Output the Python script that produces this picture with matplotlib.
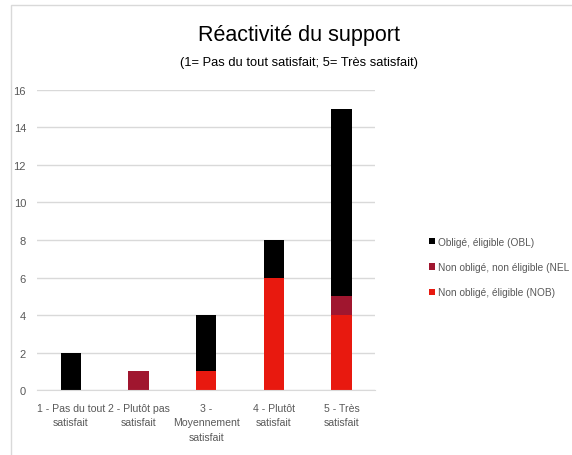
import matplotlib.pyplot as plt
from matplotlib.patches import Rectangle
import numpy as np

# données
categories = ['1 - Pas du tout\nsatisfait', '2 - Plutôt pas\nsatisfait', '3 -\nMoyennement\nsatisfait',
              '4 - Plutôt\nsatisfait', '5 - Très\nsatisfait']
nob = [0, 0, 1, 6, 4]
nel = [0, 1, 0, 0, 1]
obl = [2, 0, 3, 2, 10]
series_labels = ['Non obligé, éligible (NOB)', 'Non obligé, non éligible (NEL', 'Obligé, éligible (OBL)']
colors = ['#E8190F', '#A0162F', '#000000']

plt.rcParams['font.family'] = ['Liberation Sans', 'DejaVu Sans']
gris = '#595959'

fig = plt.figure(figsize=(5.72, 4.56), dpi=100)
ax = fig.add_axes([0.065, 0.1425, 0.591, 0.658])

x = np.arange(len(categories))
bas = np.zeros(len(categories))
for vals, lab, col in zip([nob, nel, obl], series_labels, colors):
    ax.bar(x, vals, width=0.3, bottom=bas, color=col, label=lab)
    bas = bas + np.array(vals)

ax.set_xlim(-0.5, 4.5)
ax.set_ylim(0, 16)
ax.set_yticks(range(0, 17, 2))
ax.set_xticks(x)
ax.set_xticklabels(categories, fontsize=7.6, color=gris, linespacing=1.6)
ax.tick_params(axis='y', labelsize=8, colors=gris, length=0, pad=8)
ax.tick_params(axis='x', length=0, pad=9)
ax.grid(axis='y', color='#d9d9d9', linewidth=1)
ax.set_axisbelow(True)
for s in ['top', 'right', 'left']:
    ax.spines[s].set_visible(False)
ax.spines['bottom'].set_color('#d9d9d9')

fig.text(0.523, 0.922, 'Réactivité du support', ha='center', va='center', fontsize=15.5, color='#000000')
fig.text(0.523, 0.862, '(1= Pas du tout satisfait; 5= Très satisfait)', ha='center', va='center',
         fontsize=9.3, color='#000000')

h, l = ax.get_legend_handles_labels()
fig.legend(h[::-1], l[::-1], loc='center left', bbox_to_anchor=(0.75, 0.412), frameon=False,
           fontsize=7.3, handlelength=0.55, handleheight=0.55, handletextpad=0.3, labelspacing=1.5,
           labelcolor=gris, borderpad=0, borderaxespad=0)

# cadre du graphique
fig.patches.append(Rectangle((11 / 572, -0.05), 1.0, 1 - 6 / 456 + 0.05, transform=fig.transFigure,
                             fill=False, edgecolor='#d9d9d9', linewidth=1))

plt.savefig('out.png', dpi=100)
plt.close()
